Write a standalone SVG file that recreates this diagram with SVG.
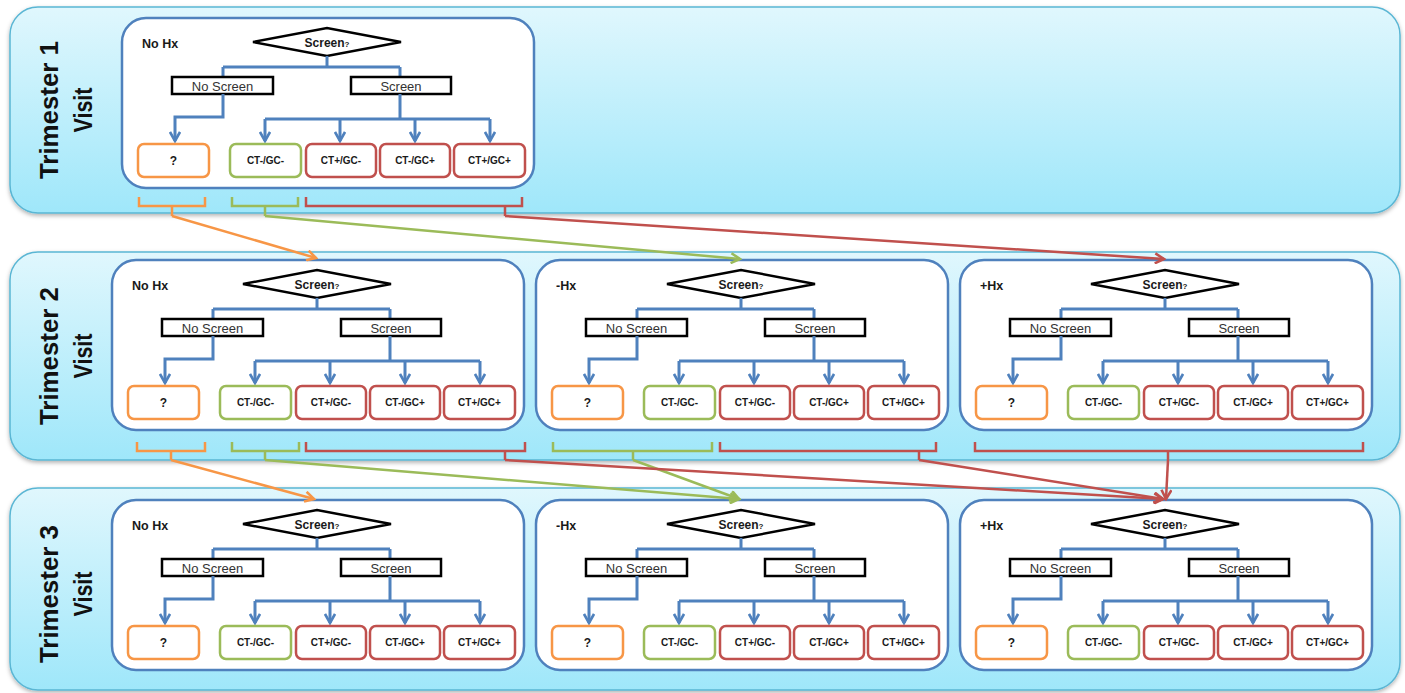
<svg xmlns="http://www.w3.org/2000/svg" width="1405" height="693" viewBox="0 0 1405 693">
  <defs>
    <linearGradient id="bandFill" x1="0" y1="0" x2="0" y2="1">
      <stop offset="0" stop-color="#e0f7fd"/>
      <stop offset="1" stop-color="#9fe7fa"/>
    </linearGradient>
    <filter id="shadow" x="-5%" y="-10%" width="110%" height="125%">
      <feDropShadow dx="0" dy="2" stdDeviation="2" flood-color="#000" flood-opacity="0.3"/>
    </filter>
    <marker id="mBlue" markerUnits="userSpaceOnUse" viewBox="0 0 12 12" refX="10" refY="6" markerWidth="12" markerHeight="12" orient="auto">
      <path d="M1,1 L10,6 L1,11" fill="none" stroke="#4f81bd" stroke-width="2.6"/>
    </marker>
    <marker id="mOrange" markerUnits="userSpaceOnUse" viewBox="0 0 12 12" refX="10" refY="6" markerWidth="12" markerHeight="12" orient="auto">
      <path d="M1,1 L10,6 L1,11" fill="none" stroke="#f79646" stroke-width="2.6"/>
    </marker>
    <marker id="mGreen" markerUnits="userSpaceOnUse" viewBox="0 0 12 12" refX="10" refY="6" markerWidth="12" markerHeight="12" orient="auto">
      <path d="M1,1 L10,6 L1,11" fill="none" stroke="#9bbb59" stroke-width="2.6"/>
    </marker>
    <marker id="mRed" markerUnits="userSpaceOnUse" viewBox="0 0 12 12" refX="10" refY="6" markerWidth="12" markerHeight="12" orient="auto">
      <path d="M1,1 L10,6 L1,11" fill="none" stroke="#c0504d" stroke-width="2.6"/>
    </marker>
    <style>
      .band { fill: url(#bandFill); stroke: #5ab6d4; stroke-width: 1.5; filter: url(#shadow); }
      .visit { font-family: "Liberation Sans", Arial, sans-serif; font-weight: bold; font-size: 25px; fill: #111; text-anchor: middle; }
      .frame { fill: #fff; stroke: #4f81bd; stroke-width: 2.5; }
      .hx { font-family: "Liberation Sans", Arial, sans-serif; font-weight: bold; font-size: 12.5px; fill: #1a1a1a; }
      .dec { fill: #fff; stroke: #000; stroke-width: 2.5; stroke-linejoin: miter; }
      .q { font-family: "Liberation Sans", Arial, sans-serif; font-weight: bold; font-size: 12px; fill: #1a1a1a; text-anchor: middle; }
      .qs { font-size: 8px; }
      .opt { fill: #fff; stroke: #000; stroke-width: 2.5; }
      .opt-t { font-family: "Liberation Sans", Arial, sans-serif; font-size: 13px; fill: #333; text-anchor: middle; }
      .flow { fill: none; stroke: #4f81bd; stroke-width: 3; }
      .arr { marker-end: url(#mBlue); }
      .res { fill: #fff; stroke-width: 2.5; }
      .res-t { font-family: "Liberation Sans", Arial, sans-serif; font-weight: bold; font-size: 10px; fill: #1a1a1a; text-anchor: middle; }
      .qm { font-size: 12px; }
      .o { stroke: #f79646; }
      .g { stroke: #9bbb59; }
      .r { stroke: #c0504d; }
      .link { fill: none; stroke-width: 2.5; }
      .lo { stroke: #f79646; }
      .lg { stroke: #9bbb59; }
      .lr { stroke: #c0504d; }
    </style>
  </defs>

  <!-- Visit bands -->
  <g id="band-t1">
    <rect class="band" x="10" y="7" width="1390" height="206" rx="28"/>
    <text class="visit" transform="translate(58,110) rotate(-90)" textLength="138" lengthAdjust="spacingAndGlyphs">Trimester 1</text>
    <text class="visit" transform="translate(92,110) rotate(-90)" textLength="45" lengthAdjust="spacingAndGlyphs">Visit</text>
  </g>
  <g id="band-t2">
    <rect class="band" x="10" y="252" width="1390" height="208" rx="28"/>
    <text class="visit" transform="translate(58,356) rotate(-90)" textLength="138" lengthAdjust="spacingAndGlyphs">Trimester 2</text>
    <text class="visit" transform="translate(92,356) rotate(-90)" textLength="45" lengthAdjust="spacingAndGlyphs">Visit</text>
  </g>
  <g id="band-t3">
    <rect class="band" x="10" y="488" width="1390" height="202" rx="28"/>
    <text class="visit" transform="translate(58,594) rotate(-90)" textLength="138" lengthAdjust="spacingAndGlyphs">Trimester 3</text>
    <text class="visit" transform="translate(92,594) rotate(-90)" textLength="45" lengthAdjust="spacingAndGlyphs">Visit</text>
  </g>

  <!-- Trimester 1: no history -->
  <g id="t1-nohx" transform="translate(122,18)">
    <rect class="frame" width="412" height="170" rx="24"/>
    <text class="hx" x="20" y="30">No Hx</text>
    <polygon class="dec" points="131,24 205,10 279,24 205,38"/>
    <text class="q" x="205" y="28.5">Screen<tspan class="qs">?</tspan></text>
    <path class="flow" d="M205,38V49M101,49H278M101,49V59M278,49V59"/>
    <rect class="opt" x="50" y="59" width="101" height="17"/>
    <text class="opt-t" x="100.5" y="72.5">No Screen</text>
    <rect class="opt" x="229" y="59" width="100" height="17"/>
    <text class="opt-t" x="279" y="72.5">Screen</text>
    <path class="flow arr" d="M101,76V99H53V123"/>
    <path class="flow" d="M278,76V101M143,101H368"/>
    <path class="flow arr" d="M143,101V123"/>
    <path class="flow arr" d="M218,101V123"/>
    <path class="flow arr" d="M293,101V123"/>
    <path class="flow arr" d="M368,101V123"/>
    <rect class="res o" x="16" y="126" width="71" height="33" rx="6"/>
    <text class="res-t qm" x="51.5" y="147">?</text>
    <rect class="res g" x="108" y="126" width="71" height="33" rx="6"/>
    <text class="res-t" x="143.5" y="146">CT-/GC-</text>
    <rect class="res r" x="184" y="126" width="70" height="33" rx="6"/>
    <text class="res-t" x="219" y="146">CT+/GC-</text>
    <rect class="res r" x="258" y="126" width="70" height="33" rx="6"/>
    <text class="res-t" x="293" y="146">CT-/GC+</text>
    <rect class="res r" x="332" y="126" width="71" height="33" rx="6"/>
    <text class="res-t" x="367.5" y="146">CT+/GC+</text>
  </g>

  <!-- Trimester 2: no history -->
  <g id="t2-nohx" transform="translate(112,260)">
    <rect class="frame" width="412" height="170" rx="24"/>
    <text class="hx" x="20" y="30">No Hx</text>
    <polygon class="dec" points="131,24 205,10 279,24 205,38"/>
    <text class="q" x="205" y="28.5">Screen<tspan class="qs">?</tspan></text>
    <path class="flow" d="M205,38V49M101,49H278M101,49V59M278,49V59"/>
    <rect class="opt" x="50" y="59" width="101" height="17"/>
    <text class="opt-t" x="100.5" y="72.5">No Screen</text>
    <rect class="opt" x="229" y="59" width="100" height="17"/>
    <text class="opt-t" x="279" y="72.5">Screen</text>
    <path class="flow arr" d="M101,76V99H53V123"/>
    <path class="flow" d="M278,76V101M143,101H368"/>
    <path class="flow arr" d="M143,101V123"/>
    <path class="flow arr" d="M218,101V123"/>
    <path class="flow arr" d="M293,101V123"/>
    <path class="flow arr" d="M368,101V123"/>
    <rect class="res o" x="16" y="126" width="71" height="33" rx="6"/>
    <text class="res-t qm" x="51.5" y="147">?</text>
    <rect class="res g" x="108" y="126" width="71" height="33" rx="6"/>
    <text class="res-t" x="143.5" y="146">CT-/GC-</text>
    <rect class="res r" x="184" y="126" width="70" height="33" rx="6"/>
    <text class="res-t" x="219" y="146">CT+/GC-</text>
    <rect class="res r" x="258" y="126" width="70" height="33" rx="6"/>
    <text class="res-t" x="293" y="146">CT-/GC+</text>
    <rect class="res r" x="332" y="126" width="71" height="33" rx="6"/>
    <text class="res-t" x="367.5" y="146">CT+/GC+</text>
  </g>

  <!-- Trimester 2: negative history -->
  <g id="t2-neghx" transform="translate(536,260)">
    <rect class="frame" width="412" height="170" rx="24"/>
    <text class="hx" x="20" y="30">-Hx</text>
    <polygon class="dec" points="131,24 205,10 279,24 205,38"/>
    <text class="q" x="205" y="28.5">Screen<tspan class="qs">?</tspan></text>
    <path class="flow" d="M205,38V49M101,49H278M101,49V59M278,49V59"/>
    <rect class="opt" x="50" y="59" width="101" height="17"/>
    <text class="opt-t" x="100.5" y="72.5">No Screen</text>
    <rect class="opt" x="229" y="59" width="100" height="17"/>
    <text class="opt-t" x="279" y="72.5">Screen</text>
    <path class="flow arr" d="M101,76V99H53V123"/>
    <path class="flow" d="M278,76V101M143,101H368"/>
    <path class="flow arr" d="M143,101V123"/>
    <path class="flow arr" d="M218,101V123"/>
    <path class="flow arr" d="M293,101V123"/>
    <path class="flow arr" d="M368,101V123"/>
    <rect class="res o" x="16" y="126" width="71" height="33" rx="6"/>
    <text class="res-t qm" x="51.5" y="147">?</text>
    <rect class="res g" x="108" y="126" width="71" height="33" rx="6"/>
    <text class="res-t" x="143.5" y="146">CT-/GC-</text>
    <rect class="res r" x="184" y="126" width="70" height="33" rx="6"/>
    <text class="res-t" x="219" y="146">CT+/GC-</text>
    <rect class="res r" x="258" y="126" width="70" height="33" rx="6"/>
    <text class="res-t" x="293" y="146">CT-/GC+</text>
    <rect class="res r" x="332" y="126" width="71" height="33" rx="6"/>
    <text class="res-t" x="367.5" y="146">CT+/GC+</text>
  </g>

  <!-- Trimester 2: positive history -->
  <g id="t2-poshx" transform="translate(960,260)">
    <rect class="frame" width="412" height="170" rx="24"/>
    <text class="hx" x="20" y="30">+Hx</text>
    <polygon class="dec" points="131,24 205,10 279,24 205,38"/>
    <text class="q" x="205" y="28.5">Screen<tspan class="qs">?</tspan></text>
    <path class="flow" d="M205,38V49M101,49H278M101,49V59M278,49V59"/>
    <rect class="opt" x="50" y="59" width="101" height="17"/>
    <text class="opt-t" x="100.5" y="72.5">No Screen</text>
    <rect class="opt" x="229" y="59" width="100" height="17"/>
    <text class="opt-t" x="279" y="72.5">Screen</text>
    <path class="flow arr" d="M101,76V99H53V123"/>
    <path class="flow" d="M278,76V101M143,101H368"/>
    <path class="flow arr" d="M143,101V123"/>
    <path class="flow arr" d="M218,101V123"/>
    <path class="flow arr" d="M293,101V123"/>
    <path class="flow arr" d="M368,101V123"/>
    <rect class="res o" x="16" y="126" width="71" height="33" rx="6"/>
    <text class="res-t qm" x="51.5" y="147">?</text>
    <rect class="res g" x="108" y="126" width="71" height="33" rx="6"/>
    <text class="res-t" x="143.5" y="146">CT-/GC-</text>
    <rect class="res r" x="184" y="126" width="70" height="33" rx="6"/>
    <text class="res-t" x="219" y="146">CT+/GC-</text>
    <rect class="res r" x="258" y="126" width="70" height="33" rx="6"/>
    <text class="res-t" x="293" y="146">CT-/GC+</text>
    <rect class="res r" x="332" y="126" width="71" height="33" rx="6"/>
    <text class="res-t" x="367.5" y="146">CT+/GC+</text>
  </g>

  <!-- Trimester 3: no history -->
  <g id="t3-nohx" transform="translate(112,500)">
    <rect class="frame" width="412" height="170" rx="24"/>
    <text class="hx" x="20" y="30">No Hx</text>
    <polygon class="dec" points="131,24 205,10 279,24 205,38"/>
    <text class="q" x="205" y="28.5">Screen<tspan class="qs">?</tspan></text>
    <path class="flow" d="M205,38V49M101,49H278M101,49V59M278,49V59"/>
    <rect class="opt" x="50" y="59" width="101" height="17"/>
    <text class="opt-t" x="100.5" y="72.5">No Screen</text>
    <rect class="opt" x="229" y="59" width="100" height="17"/>
    <text class="opt-t" x="279" y="72.5">Screen</text>
    <path class="flow arr" d="M101,76V99H53V123"/>
    <path class="flow" d="M278,76V101M143,101H368"/>
    <path class="flow arr" d="M143,101V123"/>
    <path class="flow arr" d="M218,101V123"/>
    <path class="flow arr" d="M293,101V123"/>
    <path class="flow arr" d="M368,101V123"/>
    <rect class="res o" x="16" y="126" width="71" height="33" rx="6"/>
    <text class="res-t qm" x="51.5" y="147">?</text>
    <rect class="res g" x="108" y="126" width="71" height="33" rx="6"/>
    <text class="res-t" x="143.5" y="146">CT-/GC-</text>
    <rect class="res r" x="184" y="126" width="70" height="33" rx="6"/>
    <text class="res-t" x="219" y="146">CT+/GC-</text>
    <rect class="res r" x="258" y="126" width="70" height="33" rx="6"/>
    <text class="res-t" x="293" y="146">CT-/GC+</text>
    <rect class="res r" x="332" y="126" width="71" height="33" rx="6"/>
    <text class="res-t" x="367.5" y="146">CT+/GC+</text>
  </g>

  <!-- Trimester 3: negative history -->
  <g id="t3-neghx" transform="translate(536,500)">
    <rect class="frame" width="412" height="170" rx="24"/>
    <text class="hx" x="20" y="30">-Hx</text>
    <polygon class="dec" points="131,24 205,10 279,24 205,38"/>
    <text class="q" x="205" y="28.5">Screen<tspan class="qs">?</tspan></text>
    <path class="flow" d="M205,38V49M101,49H278M101,49V59M278,49V59"/>
    <rect class="opt" x="50" y="59" width="101" height="17"/>
    <text class="opt-t" x="100.5" y="72.5">No Screen</text>
    <rect class="opt" x="229" y="59" width="100" height="17"/>
    <text class="opt-t" x="279" y="72.5">Screen</text>
    <path class="flow arr" d="M101,76V99H53V123"/>
    <path class="flow" d="M278,76V101M143,101H368"/>
    <path class="flow arr" d="M143,101V123"/>
    <path class="flow arr" d="M218,101V123"/>
    <path class="flow arr" d="M293,101V123"/>
    <path class="flow arr" d="M368,101V123"/>
    <rect class="res o" x="16" y="126" width="71" height="33" rx="6"/>
    <text class="res-t qm" x="51.5" y="147">?</text>
    <rect class="res g" x="108" y="126" width="71" height="33" rx="6"/>
    <text class="res-t" x="143.5" y="146">CT-/GC-</text>
    <rect class="res r" x="184" y="126" width="70" height="33" rx="6"/>
    <text class="res-t" x="219" y="146">CT+/GC-</text>
    <rect class="res r" x="258" y="126" width="70" height="33" rx="6"/>
    <text class="res-t" x="293" y="146">CT-/GC+</text>
    <rect class="res r" x="332" y="126" width="71" height="33" rx="6"/>
    <text class="res-t" x="367.5" y="146">CT+/GC+</text>
  </g>

  <!-- Trimester 3: positive history -->
  <g id="t3-poshx" transform="translate(960,500)">
    <rect class="frame" width="412" height="170" rx="24"/>
    <text class="hx" x="20" y="30">+Hx</text>
    <polygon class="dec" points="131,24 205,10 279,24 205,38"/>
    <text class="q" x="205" y="28.5">Screen<tspan class="qs">?</tspan></text>
    <path class="flow" d="M205,38V49M101,49H278M101,49V59M278,49V59"/>
    <rect class="opt" x="50" y="59" width="101" height="17"/>
    <text class="opt-t" x="100.5" y="72.5">No Screen</text>
    <rect class="opt" x="229" y="59" width="100" height="17"/>
    <text class="opt-t" x="279" y="72.5">Screen</text>
    <path class="flow arr" d="M101,76V99H53V123"/>
    <path class="flow" d="M278,76V101M143,101H368"/>
    <path class="flow arr" d="M143,101V123"/>
    <path class="flow arr" d="M218,101V123"/>
    <path class="flow arr" d="M293,101V123"/>
    <path class="flow arr" d="M368,101V123"/>
    <rect class="res o" x="16" y="126" width="71" height="33" rx="6"/>
    <text class="res-t qm" x="51.5" y="147">?</text>
    <rect class="res g" x="108" y="126" width="71" height="33" rx="6"/>
    <text class="res-t" x="143.5" y="146">CT-/GC-</text>
    <rect class="res r" x="184" y="126" width="70" height="33" rx="6"/>
    <text class="res-t" x="219" y="146">CT+/GC-</text>
    <rect class="res r" x="258" y="126" width="70" height="33" rx="6"/>
    <text class="res-t" x="293" y="146">CT-/GC+</text>
    <rect class="res r" x="332" y="126" width="71" height="33" rx="6"/>
    <text class="res-t" x="367.5" y="146">CT+/GC+</text>
  </g>

  <!-- Outcome brackets and transitions between visits -->
  <g id="connectors">
    <!-- Trimester 1 brackets -->
    <path class="link lo" d="M139,197V206H205V197M172,206V216"/>
    <path class="link lg" d="M232,197V206H298V197M265,206V216"/>
    <path class="link lr" d="M306,197V206H522V197M505,206V216"/>
    <!-- Trimester 1 to 2 -->
    <path class="link lo" d="M172,216L316,258" marker-end="url(#mOrange)"/>
    <path class="link lg" d="M265,216L740,259" marker-end="url(#mGreen)"/>
    <path class="link lr" d="M505,216L1164,259" marker-end="url(#mRed)"/>

    <!-- Trimester 2 brackets -->
    <path class="link lo" d="M137,442V451H205V442M171,451V460"/>
    <path class="link lg" d="M232,442V451H299V442M265,451V460"/>
    <path class="link lr" d="M306,442V451H525V442M505,451V460"/>
    <path class="link lg" d="M553,442V451H712V442M633,451V460"/>
    <path class="link lr" d="M720,442V451H936V442M919,451V460"/>
    <path class="link lr" d="M975,442V451H1363V442M1168,451V460"/>
    <!-- Trimester 2 to 3 -->
    <path class="link lo" d="M171,460L314,499" marker-end="url(#mOrange)"/>
    <path class="link lg" d="M265,460L739,499" marker-end="url(#mGreen)"/>
    <path class="link lg" d="M633,460L739,499" marker-end="url(#mGreen)"/>
    <path class="link lr" d="M505,460L1163,499" marker-end="url(#mRed)"/>
    <path class="link lr" d="M919,460L1163,499" marker-end="url(#mRed)"/>
    <path class="link lr" d="M1168,460L1166,499" marker-end="url(#mRed)"/>
  </g>
</svg>
